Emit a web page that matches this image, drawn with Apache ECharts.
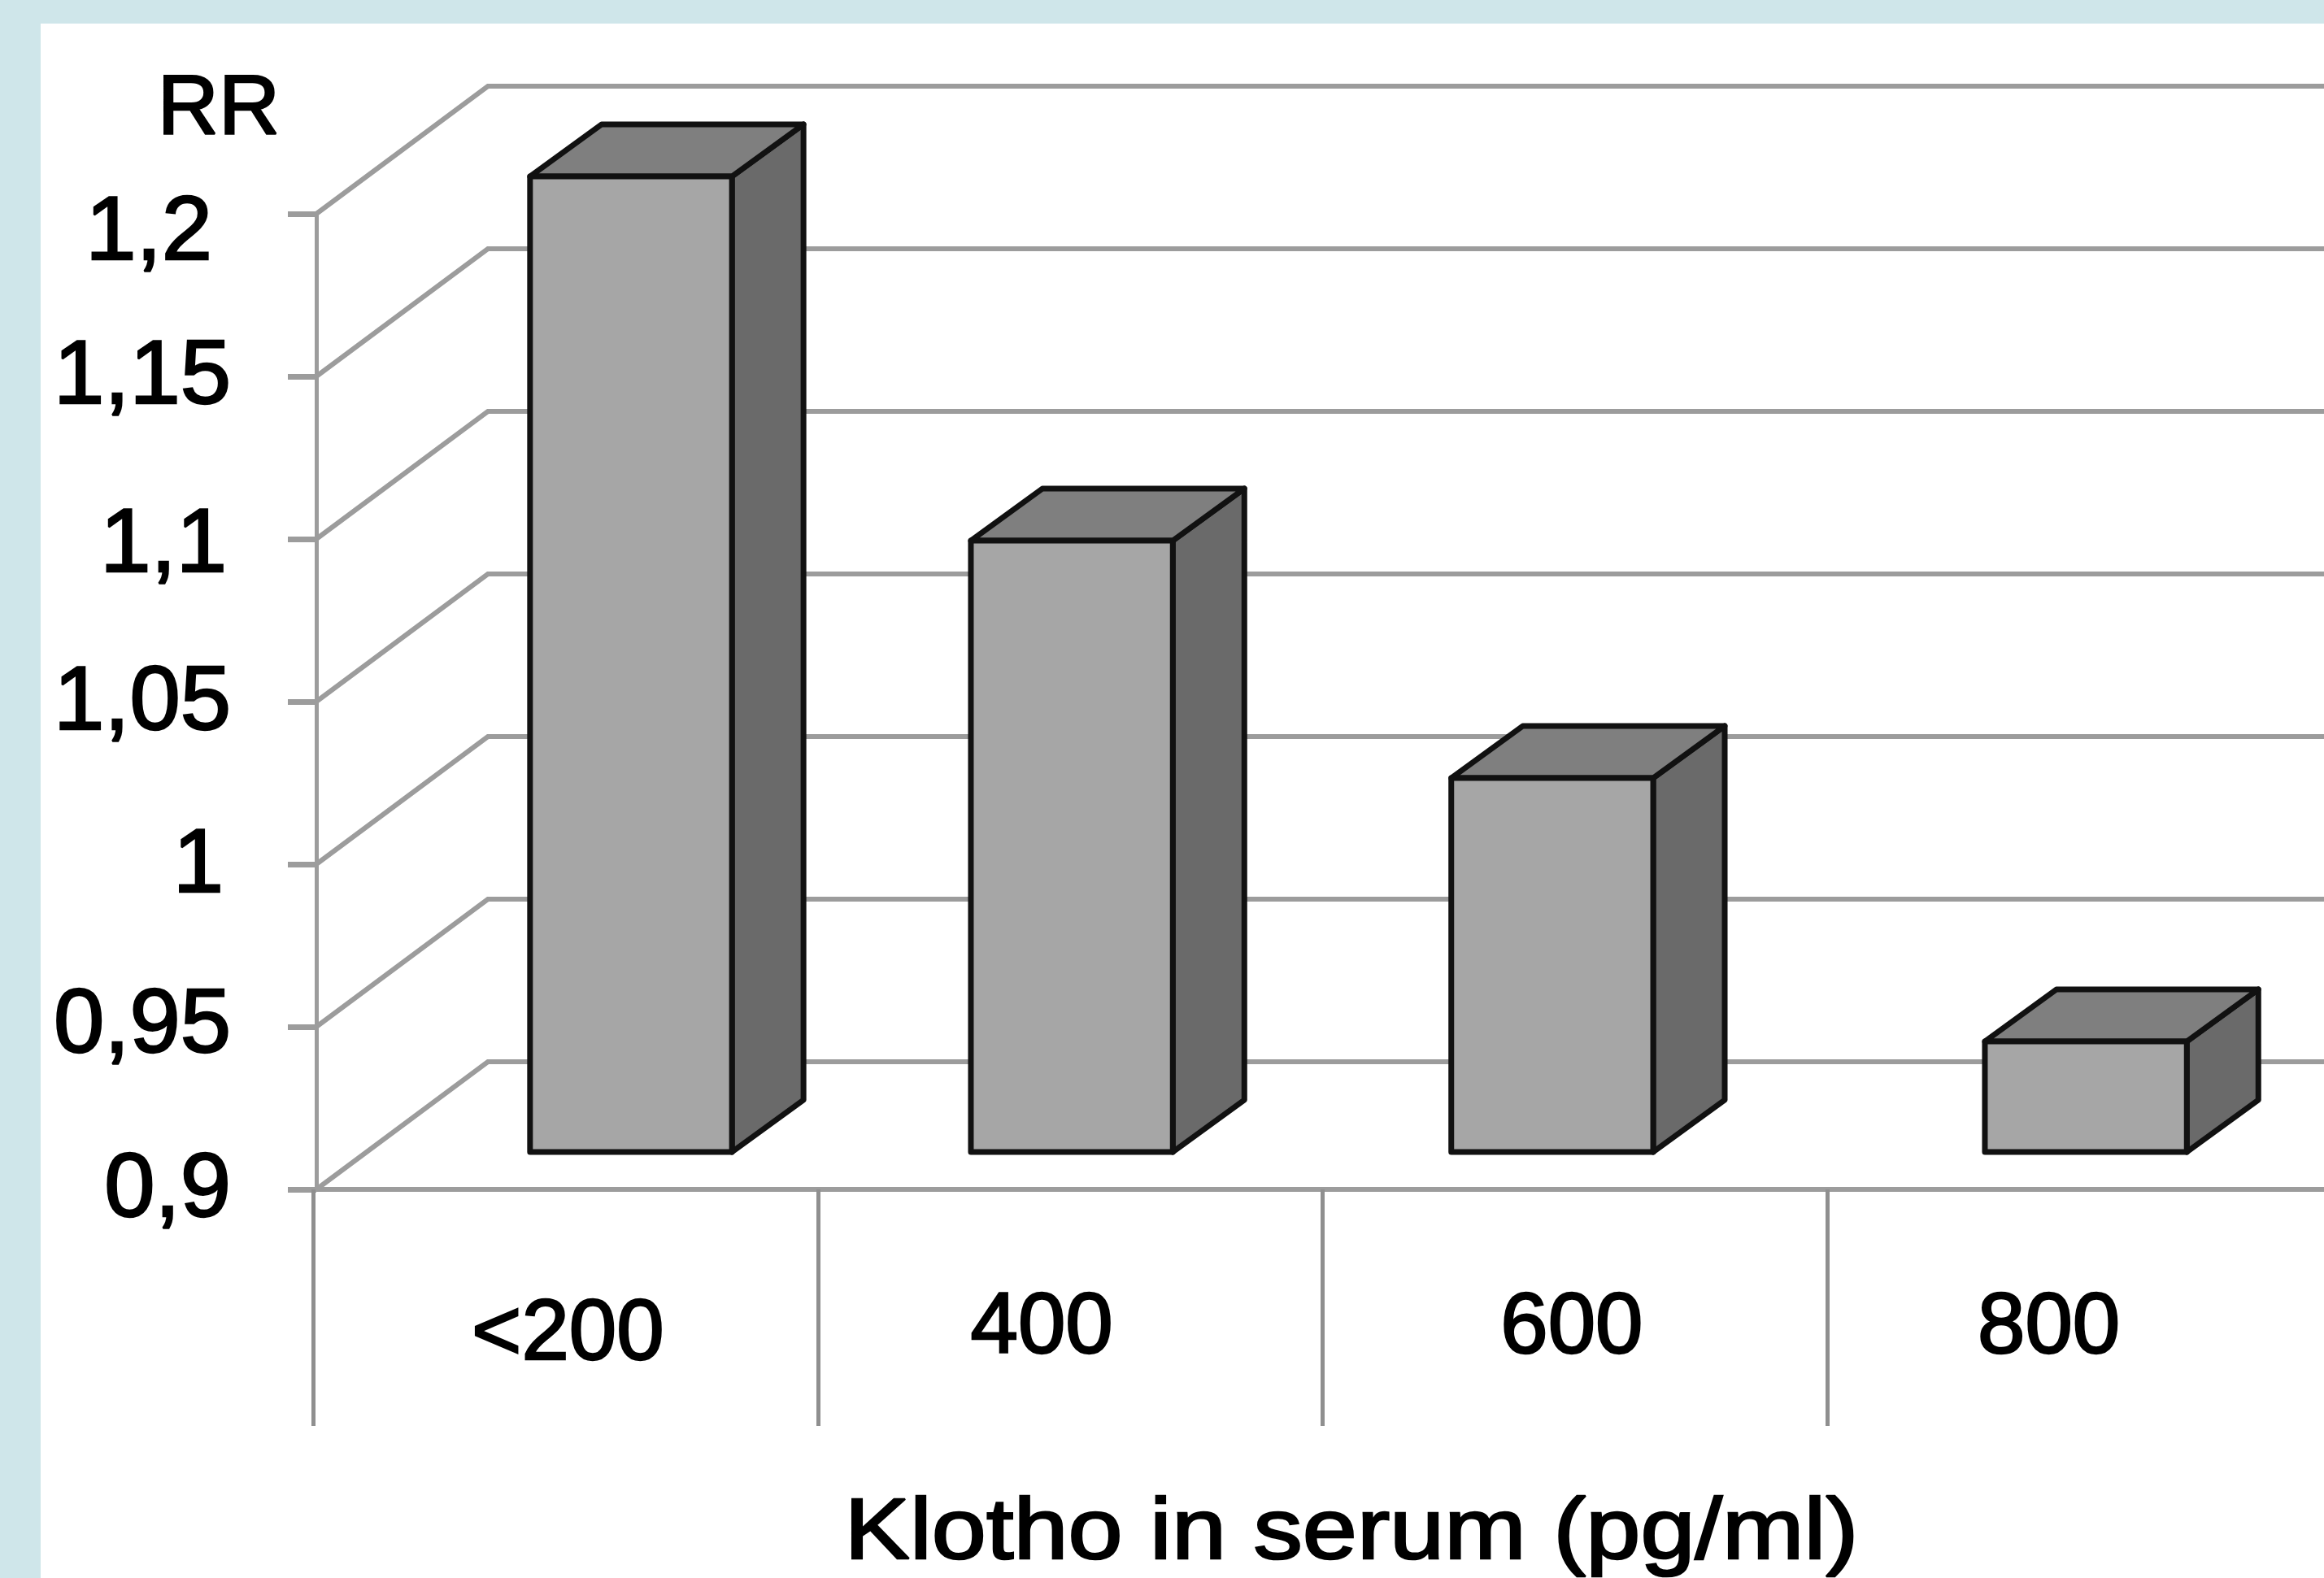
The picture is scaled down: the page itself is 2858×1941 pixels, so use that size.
<!DOCTYPE html>
<html>
<head>
<meta charset="utf-8">
<style>html,body{margin:0;padding:0;background:#cfe6ea}#chart{width:2858px;height:1941px}</style>
<script src="https://cdn.jsdelivr.net/npm/echarts@6/dist/echarts.min.js"></script>
</head>
<body>
<div id="chart"></div>
<script>
// Relative risk by serum Klotho concentration
const categories = ['<200', '400', '600', '800'];
const rrValues = [1.2, 1.088, 1.015, 0.934];
const yTickValues = [0.9, 0.95, 1, 1.05, 1.1, 1.15, 1.2];
const yTickLabels = ['0,9', '0,95', '1', '1,05', '1,1', '1,15', '1,2'];

// Pseudo-3D geometry, in pixels
const WALL_DX = 211, WALL_DY = -157;
const BAR_DX = 88, BAR_DY = -64;
const BAR_PLANE_LIFT = 46;
const BAR_NUDGE = [80.6, 2, -28, 7.5];
const GRID_LEFT = 385, GRID_WIDTH = 2483, GRID_TOP = 263, GRID_BOTTOM_Y = 1463;
const AXIS_X = 389;
const WALL_COLOR = '#9c9c9c', EDGE = '#111111';

// Per-label placement of the tick labels: [top, right, bottom, left] padding
const yLabelPad = [[4,0,0,0],[0,0,0,0],[6,9,0,0],[6,0,0,0],[18,5,0,0],[4,0,0,0],[50,23,0,0]];
const xLabelPad = [[8,0,0,6],[0,70,0,0],[0,8,0,0],[0,76,0,0]];

const heavy = { color: '#000', textBorderColor: '#000', textBorderWidth: 2.5, fontFamily: 'Liberation Sans' };
const yRich = {};
yLabelPad.forEach((p, i) => {
  yRich['y' + i] = Object.assign({ fontSize: 112, padding: p }, heavy);
});
const xRich = {};
xLabelPad.forEach((p, i) => {
  xRich['x' + i] = Object.assign({ fontSize: 105, padding: p }, heavy);
});

function renderWall(params, api) {
  const p = api.coord([0, api.value(1)]);
  const rightEdge = params.coordSys.x + params.coordSys.width;
  const backX = AXIS_X + WALL_DX, backY = p[1] + WALL_DY;
  const style = { stroke: WALL_COLOR, lineWidth: 6, fill: null };
  return {
    type: 'group',
    children: [
      { type: 'polyline', shape: { points: [[AXIS_X, p[1]], [backX, backY], [rightEdge, backY]] }, style: style }
    ]
  };
}

function renderBar(params, api) {
  const i = api.value(0);
  const center = api.coord([i, 0.9])[0] + BAR_NUDGE[i];
  const w = api.size([1, 0])[0] * 0.4;
  const x0 = center - w / 2, x1 = center + w / 2;
  const yBase = api.coord([i, 0.9])[1] - BAR_PLANE_LIFT;
  const yTop = api.coord([i, api.value(1)])[1] - BAR_PLANE_LIFT;
  const edge = c => ({ fill: c, stroke: EDGE, lineWidth: 7, lineJoin: 'round' });
  return {
    type: 'group',
    children: [
      { type: 'polygon', shape: { points: [[x1, yTop], [x1 + BAR_DX, yTop + BAR_DY], [x1 + BAR_DX, yBase + BAR_DY], [x1, yBase]] }, style: edge('#6a6a6a') },
      { type: 'polygon', shape: { points: [[x0, yTop], [x0 + BAR_DX, yTop + BAR_DY], [x1 + BAR_DX, yTop + BAR_DY], [x1, yTop]] }, style: edge('#7f7f7f') },
      { type: 'rect', shape: { x: x0, y: yTop, width: w, height: yBase - yTop }, style: edge('#a6a6a6') }
    ]
  };
}

const chart = echarts.init(document.getElementById('chart'), null, { renderer: 'canvas' });
chart.setOption({
  animation: false,
  backgroundColor: '#cfe6ea',
  graphic: [
    { type: 'rect', z: -10, shape: { x: 50, y: 29, width: 2808, height: 1912 }, style: { fill: '#ffffff' } },
    { type: 'text', z: 5, x: 1662, y: 1888, scaleX: 1.138, style: {
        text: 'Klotho in serum (pg/ml)', x: 0, y: 0, align: 'center', verticalAlign: 'middle',
        fontFamily: 'Liberation Sans', fontSize: 106, fill: '#000', stroke: '#000', lineWidth: 2.5 } }
  ],
  grid: { left: GRID_LEFT, top: GRID_TOP, width: GRID_WIDTH, height: GRID_BOTTOM_Y - GRID_TOP, containLabel: false, outerBoundsMode: 'none' },
  xAxis: {
    type: 'category',
    data: categories,
    boundaryGap: true,
    axisLine: { show: true, lineStyle: { color: WALL_COLOR, width: 6 } },
    axisTick: { show: true, length: 291, lineStyle: { color: '#8f8f8f', width: 5 } },
    axisLabel: {
      margin: 120,
      interval: 0,
      rich: xRich,
      formatter: (v, i) => '{x' + i + '|' + v + '}'
    }
  },
  yAxis: {
    type: 'value',
    min: 0.9,
    max: 1.2,
    interval: 0.05,
    offset: -4,
    name: 'RR',
    nameLocation: 'end',
    nameGap: 75,
    nameTextStyle: { fontFamily: 'Liberation Sans', fontSize: 104, color: '#000', textBorderColor: '#000', textBorderWidth: 2.5, align: 'right', padding: [0, 45, 0, 0] },
    splitLine: { show: false },
    axisLine: { show: true, lineStyle: { color: WALL_COLOR, width: 5 } },
    axisTick: { show: true, length: 35, lineStyle: { color: WALL_COLOR, width: 7 } },
    axisLabel: {
      margin: 105,
      rich: yRich,
      formatter: (v, i) => '{y' + i + '|' + yTickLabels[i] + '}'
    }
  },
  series: [
    {
      name: 'wall',
      type: 'custom',
      z: 1,
      silent: true,
      clip: false,
      renderItem: renderWall,
      data: yTickValues.map(v => [0, v])
    },
    {
      name: 'RR',
      type: 'custom',
      z: 3,
      silent: true,
      clip: false,
      renderItem: renderBar,
      data: rrValues.map((v, i) => [i, v])
    }
  ]
});
</script>
</body>
</html>
